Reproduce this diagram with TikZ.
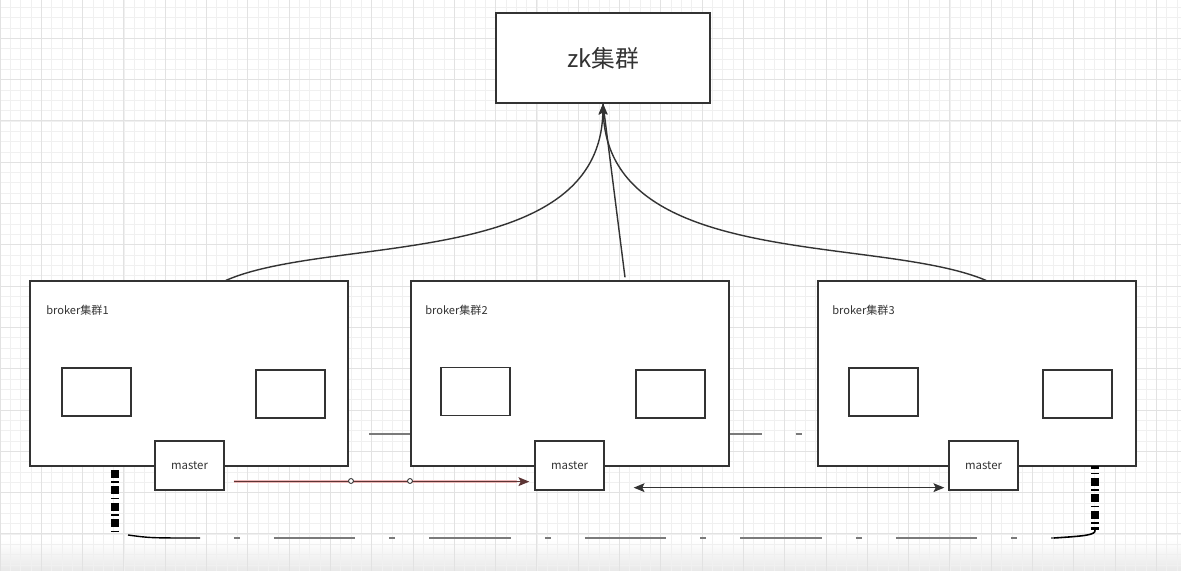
\documentclass[tikz,border=0pt]{standalone}
\usepackage{fontspec}
\setmainfont{Noto Sans CJK SC}
\usetikzlibrary{arrows.meta,calc}
\definecolor{linegray}{HTML}{333333}
\definecolor{gridmajor}{HTML}{E2E2E2}
\definecolor{gridminor}{HTML}{F0F0F0}
\definecolor{dashgray}{HTML}{7A7A7A}
\definecolor{redcore}{HTML}{5C3434}
\definecolor{redhalo}{HTML}{EDB8B8}
\begin{document}
\begin{tikzpicture}[x=0.02cm,y=-0.02cm,
    box/.style={draw=linegray,line width=0.75pt,fill=white,inner sep=0pt},
    broker/.style={box,minimum width=6.36cm,minimum height=3.7cm},
    slot/.style={box,minimum width=1.38cm,minimum height=0.96cm},
    masterbox/.style={box,minimum width=1.38cm,minimum height=0.98cm,
      text=linegray,font=\fontsize{6.5}{8}\selectfont},
    label/.style={anchor=west,inner sep=0pt,text=linegray,font=\fontsize{6.3}{8}\selectfont},
    handle/.style={circle,draw=linegray,fill=white,line width=0.5pt,minimum size=2.8pt,inner sep=0pt},
    arrowend/.style={-{Stealth[length=6.2pt,width=5pt,inset=1.3pt]}},
    link/.style={draw=linegray,line width=0.8pt}]
  \useasboundingbox (0,0) rectangle (1181,571);
  % Background
  \fill[white] (0,0) rectangle (1181,571);
  \shade[top color=white,bottom color=black!9] (0,540) rectangle (1181,571);
  % Grid
  \foreach \i in {0,...,115} \draw[gridminor,line width=0.4pt] (\i*10.325,0) -- (\i*10.325,571);
  \foreach \i in {0,...,56} \draw[gridminor,line width=0.4pt] (0,\i*10.325-3) -- (1181,\i*10.325-3);
  \foreach \i in {0,...,29} \draw[gridmajor,line width=0.5pt] (\i*41.3,0) -- (\i*41.3,571);
  \foreach \i in {0,...,14} \draw[gridmajor,line width=0.5pt] (0,\i*41.3-3) -- (1181,\i*41.3-3);
  % Hidden link behind broker 2
  \coordinate (hl) at (348,434);
  \coordinate (hr) at (818,434);
  \draw[dashgray,line width=0.75pt,dash pattern=on 46.5pt off 19.3pt on 3.4pt off 19.3pt,dash phase=76.5pt] (hl) -- (hr);
  % zk cluster
  \node[box,minimum width=4.28cm,minimum height=1.8cm,text=linegray,font=\fontsize{13.5}{16}\selectfont] (zk) at (603,58) {zk集群};
  % Broker clusters
  \node[broker] (b1) at (189,373.5) {};
  \node[broker] (b2) at (570,373.5) {};
  \node[broker] (b3) at (977,373.5) {};
  \node[label] (lb1) at (46,310) {broker集群1};
  \node[label] (lb2) at (425,310) {broker集群2};
  \node[label] (lb3) at (832,310) {broker集群3};
  % Brokers inside each cluster
  \node[slot] (s11) at (96.5,392) {};
  \node[slot] (s12) at (290.5,394) {};
  \node[slot] (s21) at (475.5,391.5) {};
  \node[slot] (s22) at (670.5,394) {};
  \node[slot] (s31) at (883.5,392) {};
  \node[slot] (s32) at (1077.5,394) {};
  % Masters
  \node[masterbox] (m1) at (189.5,465.5) {master};
  \node[masterbox] (m2) at (569.5,465.5) {master};
  \node[masterbox] (m3) at (983.5,465.5) {master};
  % Links to zk
  \draw[link,arrowend] ($(b1.north)+(37,0)$) .. controls (330,235) and (600,270) .. (zk.south);
  \draw[link,arrowend] ($(b3.north)+(9,0)$) .. controls (878,235) and (608,270) .. (zk.south);
  \draw[link] ($(b2.north)+(55,-3)$) -- (zk.south);
  % Master 1 to master 2
  \coordinate (r1) at ($(m1.south east)+(9,-9)$);
  \coordinate (r2) at ($(m2.south west)+(-5,-9)$);
  \draw[redhalo,line width=1.9pt] (r1) -- ($(r2)+(-12,0)$);
  \draw[redcore,line width=0.8pt,arrowend] (r1) -- (r2);
  \node[handle] (h1) at (351,481) {};
  \node[handle] (h2) at (410,481) {};
  % Master 2 and master 3
  \draw[link,{Stealth[length=6.2pt,width=5pt,inset=1.3pt]}-{Stealth[length=6.2pt,width=5pt,inset=1.3pt]}]
    ($(m2.south east)+(29,-3)$) -- ($(m3.south west)+(-4,-3)$);
  % Bottom link from cluster 1 to cluster 3
  \coordinate (v1) at (115,468);
  \coordinate (v2) at (115,532);
  \coordinate (c1) at (128,535);
  \coordinate (c2) at (200,538);
  \coordinate (c3) at (1054,538);
  \coordinate (v3) at (1095,530);
  \coordinate (v4) at (1095,466);
  \draw[black,line width=4pt,dash pattern=on 4.5pt off 2pt on 0.85pt off 2pt,dash phase=8.2pt] (v1) -- (v2);
  \draw[black,line width=4pt,dash pattern=on 4.5pt off 2pt on 0.85pt off 2pt,dash phase=2.55pt] (v4) -- (v3);
  \draw[black,line width=0.8pt] (c1) .. controls (150,538) .. (c2);
  \draw[dashgray,line width=0.75pt,dash pattern=on 46.5pt off 19.3pt on 3.4pt off 19.3pt,dash phase=46.5pt] (c2) -- (c3);
  \draw[black,line width=0.9pt] (c3) .. controls (1085,536) and (1096,535) .. (v3);
\end{tikzpicture}
\end{document}
